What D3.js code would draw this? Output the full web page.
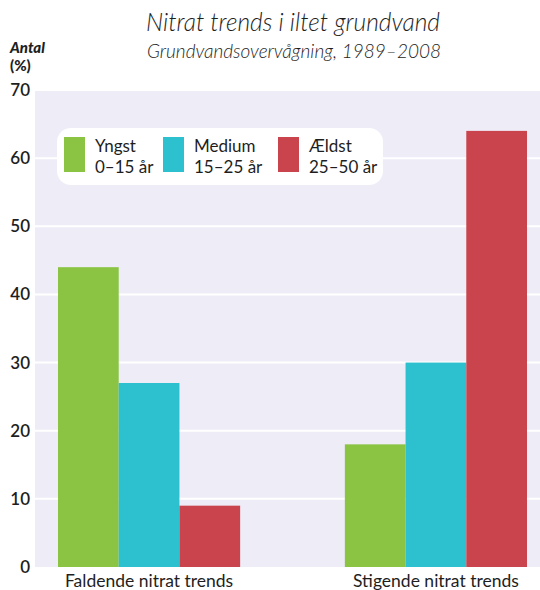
<!DOCTYPE html>
<html>
<head>
<meta charset="utf-8">
<script src="https://cdn.jsdelivr.net/npm/d3@7"></script>
<style>
  body { margin: 0; background: #fff; }
  text { font-family: Lato, "Open Sans", sans-serif; fill: #1e1e1e; }
</style>
</head>
<body>
<div id="chart"></div>
<script>
const categories = ["Faldende nitrat trends", "Stigende nitrat trends"];
const groups = ["Yngst", "Medium", "Ældst"];
const groupRanges = ["0–15 år", "15–25 år", "25–50 år"];
const youngest = [44, 18];
const medium = [27, 30];
const oldest = [9, 64];
const yTicks = [0, 10, 20, 30, 40, 50, 60, 70];
const colors = ["#8bc443", "#2dc0cf", "#c9444c"];

const width = 540, height = 590;
const margin = { top: 90, right: 0, bottom: 23, left: 35 };

const data = categories.map((c, i) => ({
  cat: c,
  values: [youngest[i], medium[i], oldest[i]]
}));

const svg = d3.select("#chart").append("svg")
  .attr("width", width)
  .attr("height", height);

svg.append("rect")
  .attr("x", margin.left)
  .attr("y", margin.top)
  .attr("width", width - margin.left - margin.right)
  .attr("height", height - margin.top - margin.bottom)
  .attr("fill", "#eeecf7");

const y = d3.scaleLinear()
  .domain([0, 70])
  .range([height - margin.bottom, margin.top]);

const x0 = d3.scaleBand()
  .domain(categories)
  .range([58, 527])
  .paddingInner(0.365);

const x1 = d3.scaleBand()
  .domain(groups)
  .range([0, x0.bandwidth()]);

// grid lines
svg.append("g")
  .selectAll("line")
  .data(yTicks.slice(1))
  .join("line")
  .attr("x1", margin.left)
  .attr("x2", width - margin.right)
  .attr("y1", d => y(d))
  .attr("y2", d => y(d))
  .attr("stroke", "#fff")
  .attr("stroke-width", 2);

// y axis labels
const yAxis = svg.append("g")
  .attr("transform", `translate(${margin.left},0)`)
  .call(d3.axisLeft(y).tickValues(yTicks).tickSize(0).tickPadding(5));
yAxis.select(".domain").remove();
yAxis.selectAll("text")
  .style("font-family", "Lato, sans-serif")
  .style("font-size", "17px")
  .style("font-weight", 600)
  .attr("fill", "#1e1e1e");

// bars
svg.append("g")
  .selectAll("g")
  .data(data)
  .join("g")
  .attr("transform", d => `translate(${x0(d.cat)},0)`)
  .selectAll("rect")
  .data(d => d.values.map((v, i) => ({ key: groups[i], v, i })))
  .join("rect")
  .attr("x", d => x1(d.key))
  .attr("y", d => y(d.v))
  .attr("width", x1.bandwidth())
  .attr("height", d => y(0) - y(d.v))
  .attr("fill", d => colors[d.i]);

// x labels
svg.append("g")
  .selectAll("text")
  .data(categories)
  .join("text")
  .attr("x", d => x0(d) + x0.bandwidth() / 2)
  .attr("y", height - 3)
  .attr("text-anchor", "middle")
  .style("font-size", "17.5px")
  .text(d => d);

// titles
svg.append("text")
  .attr("x", 293)
  .attr("y", 31)
  .attr("text-anchor", "middle")
  .style("font-size", "24.5px")
  .style("font-style", "italic")
  .style("font-weight", 300)
  .text("Nitrat trends i iltet grundvand");

svg.append("text")
  .attr("x", 294)
  .attr("y", 58)
  .attr("text-anchor", "middle")
  .style("font-size", "19px")
  .style("font-style", "italic")
  .style("font-weight", 300)
  .text("Grundvandsovervågning, 1989–2008");

svg.append("text")
  .attr("x", 10)
  .attr("y", 53)
  .style("font-size", "15px")
  .style("font-style", "italic")
  .style("font-weight", 900)
  .text("Antal");

svg.append("text")
  .attr("x", 10)
  .attr("y", 71)
  .style("font-size", "15px")
  .style("font-weight", 900)
  .text("(%)");

// legend
const legendX = [7, 106, 221];
const legend = svg.append("g").attr("transform", "translate(57,128)");
legend.append("rect")
  .attr("width", 326)
  .attr("height", 57)
  .attr("rx", 14)
  .attr("fill", "#fff");

groups.forEach((g, i) => {
  const item = legend.append("g").attr("transform", `translate(${legendX[i]},9)`);
  item.append("rect")
    .attr("width", 21)
    .attr("height", 35)
    .attr("fill", colors[i]);
  item.append("text")
    .attr("x", 31)
    .attr("y", 15)
    .style("font-size", "17px")
    .text(g);
  item.append("text")
    .attr("x", 31)
    .attr("y", 36)
    .style("font-size", "17px")
    .text(groupRanges[i]);
});
</script>
</body>
</html>
